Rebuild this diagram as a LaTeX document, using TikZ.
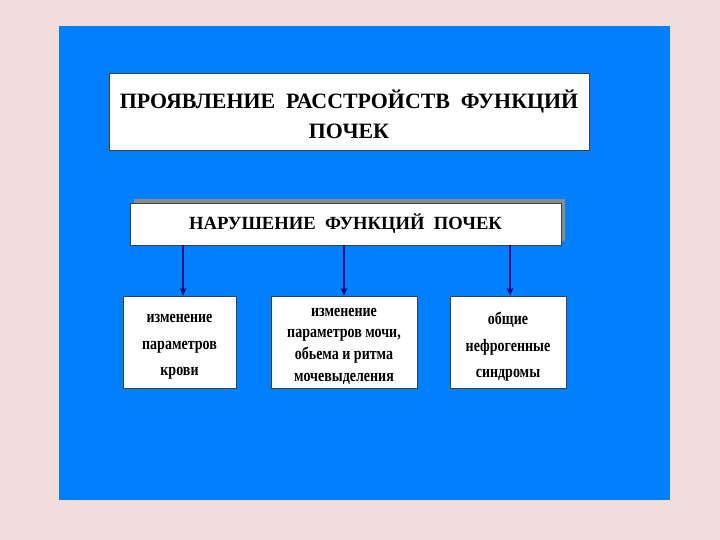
\documentclass[tikz,border=0pt]{standalone}
\usepackage{fontspec}
\setmainfont{Liberation Serif}
\newfontfamily\condfont[FakeStretch=0.8]{Liberation Serif Bold}
\usetikzlibrary{arrows.meta,shadows}
\definecolor{pinkbg}{RGB}{242,220,220}
\definecolor{panelblue}{RGB}{0,128,255}
\definecolor{navy}{RGB}{10,10,120}
\begin{document}
\begin{tikzpicture}[x=1pt,y=1pt,
  box/.style={draw=black!75,line width=0.6pt,fill=white,inner sep=0pt,align=center},
  small/.style={box,minimum height=92pt},
  txt/.style={inner sep=0pt,align=center,font=\condfont\fontsize{17.5}{26.5}\selectfont},
  arr/.style={draw=navy,line width=1.5pt,-{Stealth[length=8pt,width=7pt]}}]
\useasboundingbox (0,0) rectangle (720,-540);
\fill[pinkbg] (0,0) rectangle (720,-540);
\fill[panelblue] (59,-26) rectangle (670,-500);
\node[box,minimum width=480pt,minimum height=77pt] (title) at (349,-111.5) {};
\node[inner sep=0pt,align=center,font=\bfseries\fontsize{21.9}{30}\selectfont] (titlet) at ([yshift=-3pt]title.center)
  {ПРОЯВЛЕНИЕ \ РАССТРОЙСТВ \ ФУНКЦИЙ\\ПОЧЕК};
\node[box,minimum width=431pt,minimum height=42pt,font=\bfseries\fontsize{18.6}{22}\selectfont,
  drop shadow={shadow xshift=4pt,shadow yshift=4pt,fill=black!45,opacity=1}] (nh) at (345.5,-224)
  {НАРУШЕНИЕ \ ФУНКЦИЙ \ ПОЧЕК};
\node[small,minimum width=113pt] (b1) at (179.5,-342) {};
\node[small,minimum width=146pt] (b2) at (344,-342) {};
\node[small,minimum width=116pt] (b3) at (508,-342) {};
\node[txt] (b1t) at ([yshift=-5pt]b1.center) {изменение\\параметров\\крови};
\node[txt,font=\condfont\fontsize{17.5}{21.7}\selectfont] (b2t) at ([yshift=-4pt]b2.center) {изменение\\параметров мочи,\\обьема и ритма\\мочевыделения};
\node[txt] (b3t) at ([yshift=-5pt]b3.center) {общие\\нефрогенные\\синдромы};
\coordinate (t1) at ([xshift=3.5pt]b1.north);
\coordinate (t3) at ([xshift=2pt]b3.north);
\draw[arr] (nh.south -| t1) -- (t1);
\draw[arr] (nh.south -| b2.north) -- (b2.north);
\draw[arr] (nh.south -| t3) -- (t3);
\end{tikzpicture}
\end{document}
